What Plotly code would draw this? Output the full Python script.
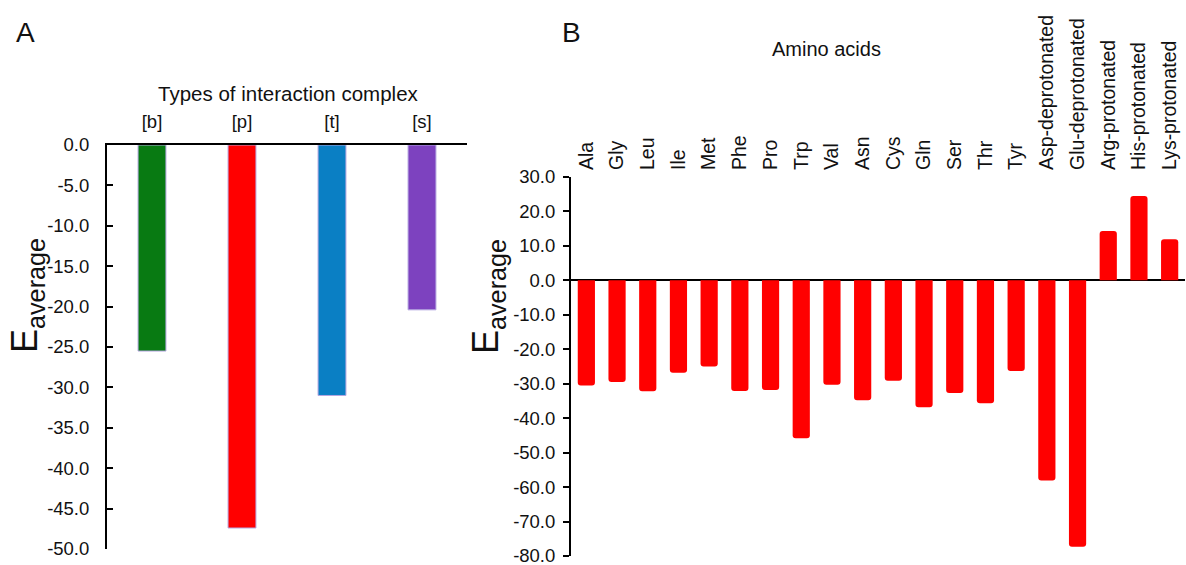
import plotly.graph_objects as go

# ---- data ----
complex_types = ["[b]", "[p]", "[t]", "[s]"]
complex_values = [-25.5, -47.4, -31.0, -20.4]
complex_colors = ["#087a12", "#ff0000", "#0a7fc4", "#7d42bf"]

amino_acids = ["Ala", "Gly", "Leu", "Ile", "Met", "Phe", "Pro", "Trp", "Val", "Asn",
               "Cys", "Gln", "Ser", "Thr", "Tyr", "Asp-deprotonated", "Glu-deprotonated",
               "Arg-protonated", "His-protonated", "Lys-protonated"]
amino_values = [-30.5, -29.5, -32.2, -26.8, -25.0, -32.1, -31.8, -45.8, -30.3, -34.8,
                -29.1, -36.8, -32.7, -35.7, -26.3, -58.1, -77.3, 14.3, 24.5, 11.9]

ticks_a = [0, -5, -10, -15, -20, -25, -30, -35, -40, -45, -50]
ticks_b = [30, 20, 10, 0, -10, -20, -30, -40, -50, -60, -70, -80]

W, H = 1186, 565
FONT = "Liberation Sans, Arial, sans-serif"


def px(x):
    return x / W


def py(y):
    return 1 - y / H


fig = go.Figure()

fig.add_trace(go.Bar(
    x=complex_types, y=complex_values, xaxis="x", yaxis="y",
    marker=dict(color=complex_colors, line=dict(color="#b4a6e0", width=1)),
    width=0.31,
))

fig.add_trace(go.Bar(
    x=amino_acids, y=amino_values, xaxis="x2", yaxis="y2",
    marker=dict(color="#ff0000", line=dict(width=0), cornerradius=3),
    width=0.56,
))

axis_font = dict(family=FONT, size=18.5, color="#111111")


def ann(text, x, y, size, angle=0):
    return dict(text=text, x=px(x), y=py(y), xref="paper", yref="paper",
                xanchor="center", yanchor="middle", textangle=angle,
                showarrow=False, font=dict(family=FONT, size=size, color="#111111"))


fig.update_layout(
    width=W, height=H,
    autosize=False,
    margin=dict(l=0, r=0, t=0, b=0, pad=0, autoexpand=False),
    paper_bgcolor="white", plot_bgcolor="white",
    showlegend=False,
    font=dict(family=FONT, color="#111111"),
    xaxis=dict(
        domain=[px(107), px(467)], anchor="y", side="top", automargin=False,
        range=[-0.5, 3.5], showline=True, linecolor="black", linewidth=2,
        ticks="", showgrid=False, tickfont=dict(family=FONT, size=18.5, color="#111111"),
        ticklabelstandoff=8, ticklabeloverflow="allow",
    ),
    yaxis=dict(
        domain=[py(549), py(145)], anchor="x", automargin=False,
        range=[-50, 0], tickvals=ticks_a, ticktext=[f"{v:.1f}" for v in ticks_a],
        ticks="inside", ticklen=6, tickwidth=2, tickcolor="black",
        showline=True, linecolor="black", linewidth=2,
        showgrid=False, zeroline=False, tickfont=axis_font, ticklabelstandoff=12,
        ticklabeloverflow="allow",
    ),
    xaxis2=dict(
        domain=[px(571), px(1185)], anchor="y2", side="top", automargin=False,
        range=[-0.5, 19.5], showline=False, ticks="", showgrid=False,
        tickangle=-90, tickfont=dict(family=FONT, size=19.5, color="#111111"),
        ticklabelstandoff=6, ticklabeloverflow="allow",
    ),
    yaxis2=dict(
        domain=[py(556), py(177)], anchor="x2", automargin=False,
        range=[-80, 30], tickvals=ticks_b, ticktext=[f"{v:.1f}" for v in ticks_b],
        ticks="outside", ticklen=6, tickwidth=2, tickcolor="black",
        showline=True, linecolor="black", linewidth=2,
        showgrid=False, zeroline=True, zerolinecolor="black", zerolinewidth=2,
        tickfont=axis_font, ticklabelstandoff=4, ticklabeloverflow="allow",
    ),
    annotations=[
        ann("A", 25, 33, 28),
        ann("B", 571, 33, 28),
        ann("Types of interaction complex", 288, 94, 20.5),
        ann("Amino acids", 826, 49, 20),
        ann("E<sub>average</sub>", 27, 296, 36, -90),
        ann("E<sub>average</sub>", 488, 297, 36, -90),
    ],
)

fig.write_html("out.html", config={"displayModeBar": False},
               post_script="document.body.style.margin='0px';")
